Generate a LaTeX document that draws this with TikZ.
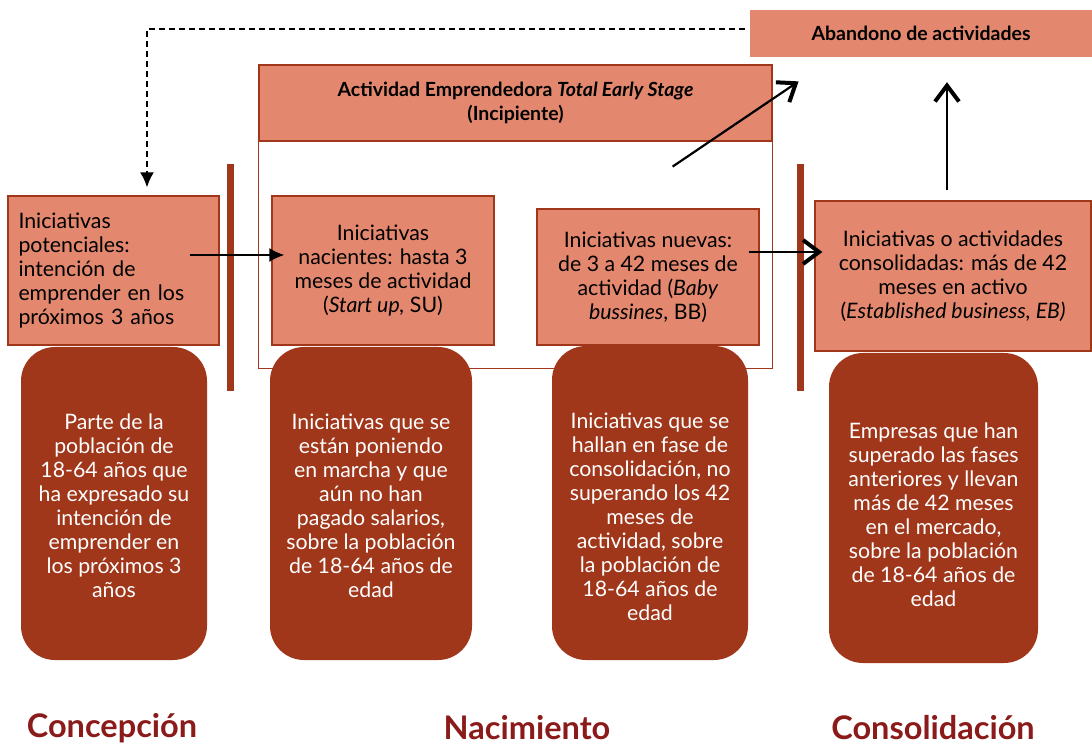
\documentclass[tikz,border=0pt]{standalone}
\usepackage{fontspec}
\setmainfont{Lato}
\usetikzlibrary{positioning,calc,arrows.meta}
\definecolor{salmon}{HTML}{E3886F}
\definecolor{rust}{HTML}{A0361A}
\definecolor{wine}{HTML}{8B1A1A}

\begin{document}
\begin{tikzpicture}[x=1pt, y=1pt,
  etapa/.style={draw=rust, fill=salmon, line width=1.2pt, inner sep=0pt, align=center, font=\fontsize{21.3}{24}\selectfont},
  nota/.style={fill=rust, rounded corners=34pt, inner sep=0pt, text=white, font=\fontsize{21.3}{24}\selectfont},
  fase/.style={text=wine, font=\fontsize{32.5}{36}\selectfont\bfseries},
  barra/.style={rust, line width=7pt},
  flecha/.style={line width=2.2pt, -{Latex[length=15pt, width=14pt]}},
  salida/.style={line width=2.2pt, -{Straight Barb[length=16pt, width=24pt, line width=4pt]}}]
\useasboundingbox (0,0) rectangle (1092,745);

\node[fill=salmon, minimum width=342pt, minimum height=47pt, font=\fontsize{19.5}{24}\selectfont\bfseries] (aband) at (921,711.5) {Abandono de actividades};
\node[etapa, minimum width=513pt, minimum height=76pt, font=\fontsize{19.5}{24}\selectfont\bfseries] (tea) at (515.5,642)
  {Actividad Emprendedora \textit{Total Early Stage}\\(Incipiente)};
\draw[rust, line width=1.2pt] (tea.south west) -- ++(0,-227) -| (tea.south east);

\node[etapa, minimum width=211pt, minimum height=149pt, text width=190pt, align=left] (pot) at (113.5,474.5)
  {Iniciativas\\potenciales:\\intención de\\emprender en los\\próximos 3 años};
\node[etapa, minimum width=222pt, minimum height=149pt] (nac) at (383,474.5)
  {Iniciativas\\nacientes: hasta 3\\meses de actividad\\(\textit{Start up,} SU)};
\node[etapa, minimum width=222pt, minimum height=136pt] (nueva) at (648,468)
  {Iniciativas nuevas:\\de 3 a 42 meses de\\actividad (\textit{Baby}\\\textit{bussines}, BB)};
\node[etapa, minimum width=276pt, minimum height=150pt] (cons) at (953,469)
  {Iniciativas o actividades\\consolidadas: más de 42\\meses en activo\\(\textit{Established business, EB)}};

\draw[barra] (230.5,354) -- (230.5,581);
\draw[barra] (800,354) -- (800,581);

\node[nota, minimum width=186pt, minimum height=313pt] (r1) at (114,241.5)
  {\parbox[c][180pt][t]{182pt}{\centering Parte de la\\población de\\18-64 años que\\ha expresado su\\intención de\\emprender en\\los próximos 3\\años}};
\node[nota, minimum width=202pt, minimum height=313pt] (r2) at (371,241.5)
  {\parbox[c][180pt][t]{198pt}{\centering Iniciativas que se\\están poniendo\\en marcha y que\\aún no han\\pagado salarios,\\sobre la población\\de 18-64 años de\\edad}};
\node[nota, minimum width=196pt, minimum height=314pt] (r3) at (650,242)
  {\parbox[c][180pt][t]{192pt}{\centering Iniciativas que se\\hallan en fase de\\consolidación, no\\superando los 42\\meses de\\actividad, sobre\\la población de\\18-64 años de\\edad}};
\node[nota, minimum width=209pt, minimum height=310pt] (r4) at (933.5,237)
  {\parbox[c][170pt][t]{205pt}{\centering Empresas que han\\superado las fases\\anteriores y llevan\\más de 42 meses\\en el mercado,\\sobre la población\\de 18-64 años de\\edad}};

\node[fase] (concep) at (112,17) {Concepción};
\node[fase] (nacim) at (527,17) {Nacimiento};
\node[fase] (consol) at (933,17) {Consolidación};

\draw[flecha, line width=2pt, dash pattern=on 6pt off 4pt] ($(aband.west)+(-5,4.5)$) -| ($(pot.north)+(33.5,8)$);
\draw[flecha] ($(pot.east)+(-30,15.5)$) -- ($(nac.west)+(13,15.5)$);
\draw[salida] ($(nueva.east)+(-11,25)$) -- ($(cons.west)+(8,24)$);
\draw[salida] ($(cons.north)+(-6,10)$) -- ($(aband.south)+(26,-25)$);
\draw[salida] ($(tea.south east)+(-100,-25)$) -- ($(tea.north east)+(26,-17)$);
\end{tikzpicture}
\end{document}
